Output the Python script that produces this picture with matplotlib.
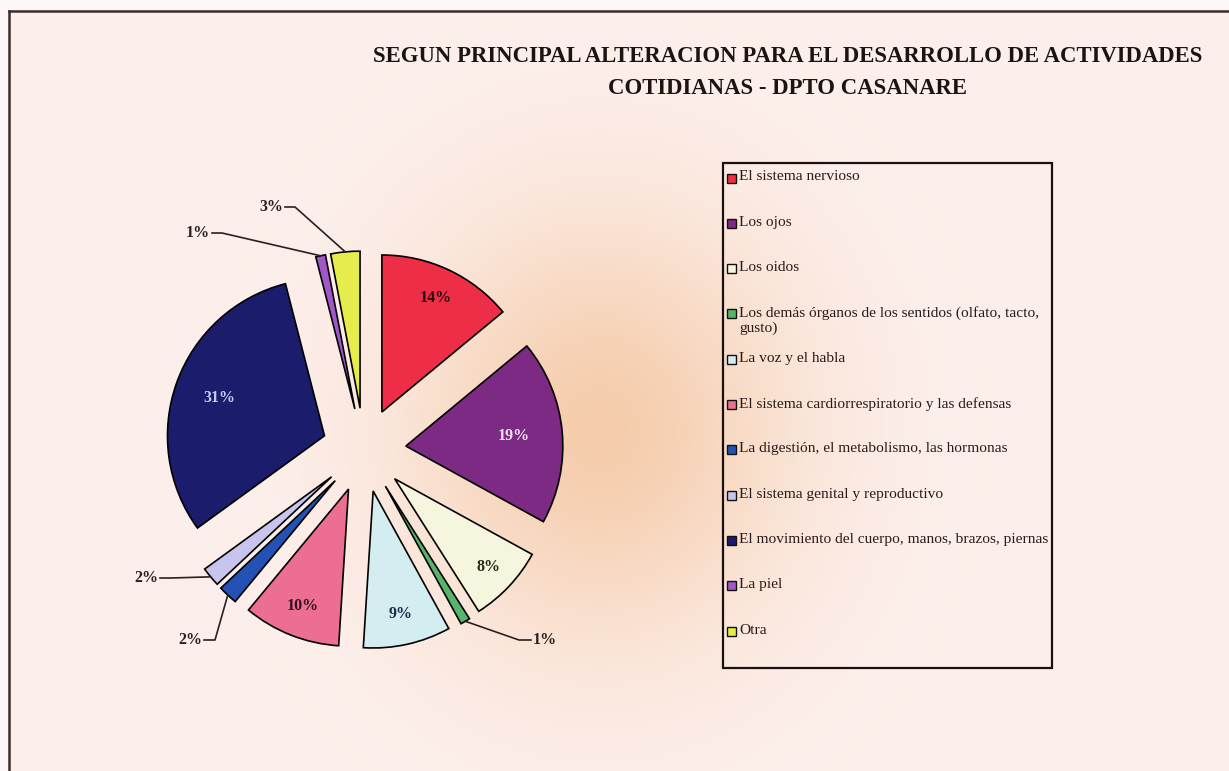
import numpy as np
import matplotlib
matplotlib.use("Agg")
import matplotlib.pyplot as plt
from matplotlib.patches import Rectangle

# ---------------- data ----------------
categories = [
    "El sistema nervioso",
    "Los ojos",
    "Los oidos",
    "Los demás órganos de los sentidos (olfato, tacto,\ngusto)",
    "La voz y el habla",
    "El sistema cardiorrespiratorio y las defensas",
    "La digestión, el metabolismo, las hormonas",
    "El sistema genital y reproductivo",
    "El movimiento del cuerpo, manos, brazos, piernas",
    "La piel",
    "Otra",
]
values = [14, 19, 8, 1, 9, 10, 2, 2, 31, 1, 3]
pct_labels = [f"{v}%" for v in values]
title_lines = ["SEGUN PRINCIPAL ALTERACION PARA EL DESARROLLO DE ACTIVIDADES",
               "COTIDIANAS - DPTO CASANARE"]

# ---------------- style ----------------
colors = ["#ee2d47", "#7c2a84", "#f6f6df", "#58b46a", "#d3edf1", "#ec6e92",
          "#2352b4", "#c7c4ee", "#1b1d6c", "#a257c8", "#e6ec4c"]
inside_colors = {0: "#2a0a0a", 1: "#efe2f2", 2: "#2a2a1a", 4: "#1d2d50",
                 5: "#3a0f1f", 8: "#c9c9f0"}
inside_frac = {0: 0.80, 1: 0.69, 2: 0.82, 4: 0.80, 5: 0.80, 8: 0.71}
# leader elbows (image px) and text side for small slices
outside = {3: ((519, 640), (531, 640), "left"),
           6: ((215, 640), (204, 640), "right"),
           7: ((171, 578), (160, 578), "right"),
           9: ((222, 233), (212, 233), "right"),
           10: ((295, 207), (285, 207), "right")}

W, H = 1229, 771
SERIF = ["Liberation Serif", "DejaVu Serif"]


def Y(y):
    return H - y


fig = plt.figure(figsize=(W / 100, H / 100), dpi=100, facecolor="#fdf8f7")
ax = fig.add_axes([0, 0, 1, 1])
ax.set_facecolor("#fdf8f7")

# background with warm glow inside the frame
x0, y0 = 9, 11
xs = np.arange(x0, W)
ys = np.arange(y0, H)
XX, YY = np.meshgrid(xs, ys)
g = np.exp(-(((XX - 600) / 190.0) ** 2 + ((YY - 430) / 210.0) ** 2))
base = np.array([0.992, 0.940, 0.925])
peach = np.array([0.960, 0.790, 0.650])
a = 0.9 * g[..., None]
img = base[None, None, :] * (1 - a) + peach[None, None, :] * a
ax.imshow(img, extent=(x0, W, Y(H), Y(y0)), origin="upper", aspect="auto", zorder=0,
          interpolation="bilinear")

# frame lines
ax.plot([x0, x0], [Y(H), Y(y0)], color="#3b2b2b", lw=1.8, zorder=1)
ax.plot([x0, W], [Y(y0), Y(y0)], color="#3b2b2b", lw=1.8, zorder=1)

# pie (explode is in data units here: 42 px)
cx, cy, R = 364, Y(450), 157
wedges, _ = ax.pie(values, colors=colors, startangle=90, counterclock=False,
                   radius=R, center=(cx, cy), explode=[42] * len(values),
                   frame=True,
                   wedgeprops=dict(edgecolor="black", linewidth=1.2, zorder=3))

for i, w in enumerate(wedges):
    th = np.deg2rad((w.theta1 + w.theta2) / 2)
    ax_, ay_ = w.center
    if i in inside_frac:
        f = inside_frac[i]
        ax.text(ax_ + f * R * np.cos(th), ay_ + f * R * np.sin(th), pct_labels[i],
                ha="center", va="center", fontsize=11.5, fontweight="bold",
                family=SERIF, color=inside_colors[i], zorder=5)
    else:
        px, py = ax_ + R * np.cos(th), ay_ + R * np.sin(th)
        (ex, ey), (tx, ty), side = outside[i]
        ax.plot([px, ex, tx], [py, Y(ey), Y(ty)], color="#2a2020", lw=1.2, zorder=4)
        off = 2 if side == "left" else -2
        ax.text(tx + off, Y(ty), pct_labels[i], ha=side, va="center", fontsize=11.5,
                fontweight="bold", family=SERIF, color="#2a2020", zorder=5)

ax.set_xlim(0, W)
ax.set_ylim(0, H)
ax.set_aspect("auto")
ax.axis("off")

fig.canvas.draw()
renderer = fig.canvas.get_renderer()


def fit(t, target):
    bb = t.get_window_extent(renderer=renderer)
    t.set_fontsize(t.get_fontsize() * target / bb.width)


# title
t1 = ax.text(788, Y(57), title_lines[0], ha="center", va="center", fontsize=14,
             fontweight="bold", family=SERIF, color="#1a1414")
fit(t1, 833)
t2 = ax.text(788, Y(88), title_lines[1], ha="center", va="center",
             fontsize=t1.get_fontsize(), fontweight="bold", family=SERIF, color="#1a1414")

# legend
ax.add_patch(Rectangle((723, Y(668)), 329, 505, facecolor="none", edgecolor="#1a1010",
                       lw=1.6, zorder=4))
probe = ax.text(0, 0, categories[8], fontsize=10, family=SERIF)
fit(probe, 308)
lfs = probe.get_fontsize()
probe.remove()
for i, lab in enumerate(categories):
    yc = 178 + 45.3 * i
    ax.add_patch(Rectangle((727, Y(yc) - 4.5), 9, 9, facecolor=colors[i],
                           edgecolor="#111111", lw=1.0, zorder=5))
    ax.text(739, Y(yc) + 7.5, lab, ha="left", va="top", fontsize=lfs, family=SERIF,
            color="#2a1a1a", linespacing=1.15, zorder=5)

fig.savefig("out.png", dpi=100, facecolor=fig.get_facecolor())
